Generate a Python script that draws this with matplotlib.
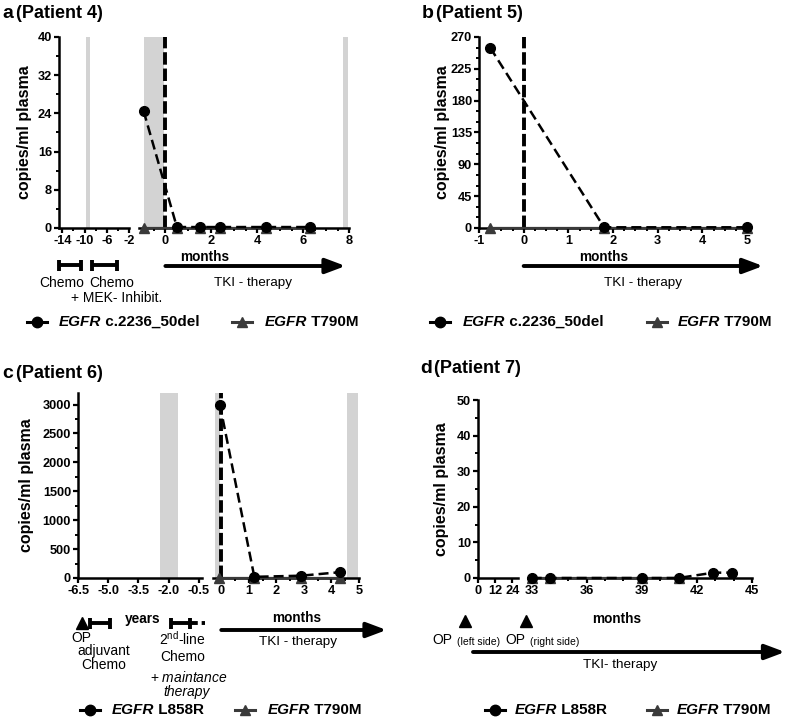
import matplotlib
matplotlib.use("Agg")
import matplotlib.pyplot as plt
import matplotlib.transforms as mtransforms
from matplotlib.ticker import MultipleLocator

plt.rcParams["font.family"] = ["Liberation Sans", "DejaVu Sans"]
plt.rcParams["mathtext.fontset"] = "custom"
plt.rcParams["mathtext.rm"] = "Liberation Sans"
plt.rcParams["mathtext.it"] = "Liberation Sans:italic"
plt.rcParams["mathtext.bf"] = "Liberation Sans:bold"
plt.rcParams["axes.unicode_minus"] = False

W, H = 787, 719
MUT_COLOR = "black"
T790_COLOR = "#3a3a3a"
SHADE = "#d3d3d3"

# ── Data ──────────────────────────────────────────────────────────────────────
# a (Patient 4): months relative to TKI start
a_months = [-0.95, 0.5, 1.5, 2.4, 4.4, 6.3]
a_del = [24.5, 0.2, 0.2, 0.2, 0.2, 0.2]
a_t790m = [0, 0, 0, 0, 0, 0]
a_shade_left = [(-9.8, -9.05)]
a_shade_right = [(-0.93, -0.05), (7.75, 7.95)]
a_chemo = [(-14.6, -10.6), (-8.6, -4.2)]
a_left_ticks = [-14, -10, -6, -2]
a_right_ticks = [0, 2, 4, 6, 8]
a_yticks = [0, 8, 16, 24, 32, 40]

# b (Patient 5)
b_months = [-0.75, 1.8, 5.0]
b_del = [255, 1, 1]
b_t790m = [0, 0, 0]
b_xticks = [-1, 0, 1, 2, 3, 4, 5]
b_yticks = [0, 45, 90, 135, 180, 225, 270]

# c (Patient 6): years before, months after TKI start
c_months = [-0.05, 1.2, 2.9, 4.3]
c_l858r = [3000, 20, 40, 100]
c_t790m_months = [-0.1, 1.2, 2.9, 4.3]
c_t790m = [0, 0, 0, 0]
c_shade_years = [(-2.45, -1.55)]
c_shade_months = [(-0.22, -0.04), (4.55, 4.95)]
c_op_year = [-6.3]
c_chemo_years = [(-5.9, -4.9), (-1.9, -0.95)]
c_left_ticks = [-6.5, -5.0, -3.5, -2.0, -0.5]
c_right_ticks = [0, 1, 2, 3, 4, 5]
c_yticks = [0, 500, 1000, 1500, 2000, 2500, 3000]

# d (Patient 7)
d_months = [33, 34, 39, 41, 42.9, 43.9]
d_l858r = [0, 0, 0, 0, 1.5, 1.5]
d_t790m_months = [33, 34, 39, 41]
d_t790m = [0, 0, 0, 0]
d_left_ticks = [0, 12, 24]
d_right_ticks = [33, 36, 39, 42, 45]
d_yticks = [0, 10, 20, 30, 40, 50]


fig = plt.figure(figsize=(W / 100, H / 100), dpi=100)


def px_axes(x0, x1, top, bottom):
    return fig.add_axes([x0 / W, 1 - bottom / H, (x1 - x0) / W, (bottom - top) / H])


def style_ax(ax, xticks, yticks=None, xminor=None, yminor=None, xfmt="{:g}"):
    for s in ["top", "right"]:
        ax.spines[s].set_visible(False)
    ax.spines["bottom"].set_linewidth(1.8)
    ax.spines["left"].set_linewidth(1.8)
    ax.set_xticks(xticks, [xfmt.format(t) for t in xticks],
                  fontweight="bold", fontsize=9.2)
    if yticks is None:
        ax.spines["left"].set_visible(False)
        ax.tick_params(axis="y", which="both", left=False, labelleft=False)
    else:
        ax.set_yticks(yticks, [f"{t:g}" for t in yticks],
                      fontweight="bold", fontsize=9.2)
    if xminor:
        ax.xaxis.set_minor_locator(MultipleLocator(xminor))
    if yminor:
        ax.yaxis.set_minor_locator(MultipleLocator(yminor))
    ax.tick_params(which="major", direction="out", length=3.8, width=1.6, pad=1.2)
    ax.tick_params(which="minor", direction="out", length=2.4, width=1.4)
    for lbl in ax.get_xticklabels() + ax.get_yticklabels():
        lbl.set_fontweight("bold")
    ax.patch.set_visible(False)


def set_ylabel(ax, x_px, x0, x1):
    ax.set_ylabel("copies/ml plasma", fontsize=11.5, fontweight="bold")
    ax.yaxis.set_label_coords((x_px - x0) / (x1 - x0), 0.5)
    ax.yaxis.label.set_verticalalignment("center")


def shade(ax, spans):
    for lo, hi in spans:
        ax.axvspan(lo, hi, color=SHADE, lw=0, zorder=0)


def draw_series(ax, x, y, tx, ty):
    ax.plot(tx, ty, color=T790_COLOR, lw=1.6, marker="^", ms=7,
            clip_on=False, zorder=3)
    ax.plot(x, y, color=MUT_COLOR, lw=1.8, ls=(0, (4, 2)), marker="o", ms=7,
            clip_on=False, zorder=4)


def tki_start(ax):
    ax.axvline(0, color="black", lw=2.8, ls=(0, (3.2, 1)), zorder=2)


# ── Panel a ───────────────────────────────────────────────────────────────────
aL = px_axes(59, 129, 37, 228)
aR = px_axes(139, 349, 37, 228)
for ax in (aL, aR):
    ax.set_ylim(0, 40)
aL.set_xlim(-14.6, -2)
aR.set_xlim(-1.15, 8)
shade(aL, a_shade_left)
shade(aR, a_shade_right)
tki_start(aR)
draw_series(aR, a_months, a_del, a_months, a_t790m)
style_ax(aL, a_left_ticks, a_yticks, xminor=2, yminor=4)
style_ax(aR, a_right_ticks, None, xminor=0.5)
set_ylabel(aL, 25, 59, 129)

# ── Panel b ───────────────────────────────────────────────────────────────────
bA = px_axes(479, 747, 37, 228)
bA.set_xlim(-1, 5)
bA.set_ylim(0, 270)
tki_start(bA)
draw_series(bA, b_months, b_del, b_months, b_t790m)
style_ax(bA, b_xticks, b_yticks, xminor=0.25, yminor=15)
set_ylabel(bA, 442, 479, 747)

# ── Panel c ───────────────────────────────────────────────────────────────────
cL = px_axes(78, 202, 393, 578)
cR = px_axes(213, 359, 393, 578)
for ax in (cL, cR):
    ax.set_ylim(0, 3200)
cL.set_xlim(-6.5, -0.35)
cR.set_xlim(-0.3, 5)
shade(cL, c_shade_years)
shade(cR, c_shade_months)
tki_start(cR)
draw_series(cR, c_months, c_l858r, c_t790m_months, c_t790m)
style_ax(cL, c_left_ticks, c_yticks, yminor=250, xfmt="{:.1f}")
style_ax(cR, c_right_ticks, None, xminor=0.5)
set_ylabel(cL, 26, 78, 202)

# ── Panel d ───────────────────────────────────────────────────────────────────
dL = px_axes(478, 518, 400, 578)
dR = px_axes(528, 752, 400, 578)
for ax in (dL, dR):
    ax.set_ylim(0, 50)
dL.set_xlim(0, 28)
dR.set_xlim(32.8, 45)
draw_series(dR, d_months, d_l858r, d_t790m_months, d_t790m)
style_ax(dL, d_left_ticks, d_yticks, yminor=5)
style_ax(dR, d_right_ticks, None, xminor=1)
set_ylabel(dL, 441, 478, 518)

# ── Overlay for titles, timelines and legends (pixel coordinates) ───────────
ov = fig.add_axes([0, 0, 1, 1])
ov.set_xlim(0, W)
ov.set_ylim(H, 0)
ov.axis("off")
ov.patch.set_visible(False)


def blend(ax):
    return mtransforms.blended_transform_factory(ax.transData, ov.transData)


def title(x, y, letter, text):
    ov.text(x, y, letter, fontsize=14, fontweight="bold", va="baseline")
    ov.text(x + 14, y, text, fontsize=13, fontweight="bold", va="baseline")


def hbar(ax, x0, x1, y, dash_to=None):
    tr = blend(ax)
    ov.plot([x0, x1], [y, y], color="black", lw=2.8, transform=tr,
            clip_on=False, solid_capstyle="butt")
    for xx in (x0, x1):
        ov.plot([xx, xx], [y - 5.5, y + 5.5], color="black", lw=2.8, transform=tr,
                clip_on=False, solid_capstyle="butt")
    if dash_to is not None:
        ov.plot([x1, dash_to], [y, y], color="black", lw=2.8, transform=tr,
                ls=(0, (2, 1)), clip_on=False)


def arrow(tr, x0, x1, y):
    ov.annotate("", xy=(x1, y), xycoords=tr, xytext=(x0, y), textcoords=tr,
                arrowprops=dict(arrowstyle="-|>,head_length=0.8,head_width=0.3",
                                lw=2.8, color="black", shrinkA=0, shrinkB=0,
                                mutation_scale=15))


def label(x, y, s, size=9.7, weight="normal", style="normal"):
    ov.text(x, y, s, fontsize=size, fontweight=weight, fontstyle=style,
            ha="center", va="center")


def legend_entry(x_line, x_text, y, marker, color, variant):
    ov.plot([x_line, x_line + 20], [y, y], color=color, lw=2.2)
    ov.plot([x_line + 10], [y], marker=marker, color=color, ms=7.5)
    t = ov.text(x_text, y, "EGFR", fontsize=11, fontweight="bold",
                fontstyle="italic", va="center")
    ov.annotate(" " + variant, xy=(1, 0), xycoords=t, fontsize=11,
                fontweight="bold", va="bottom", ha="left")


# titles
title(2, 18, "a", "(Patient 4)")
title(422, 18, "b", "(Patient 5)")
title(2, 378, "c", "(Patient 6)")
title(420, 373, "d", "(Patient 7)")

# a timeline
for lo, hi in a_chemo:
    hbar(aL, lo, hi, 265)
label(62, 283, "Chemo", size=10)
label(112, 283, "Chemo", size=10)
label(117, 298, "+ MEK- Inhibit.", size=10)
label(205, 257, "months", size=9.8, weight="bold")
arrow(blend(aR), 0, 7.85, 266)
label(253, 283, "TKI - therapy")

# b timeline
label(604, 257, "months", size=9.8, weight="bold")
arrow(blend(bA), 0, 5.36, 266)
label(643, 283, "TKI - therapy")

# c timeline
ov.plot(c_op_year, [623], marker="^", color="black", ms=9, ls="none",
        transform=blend(cL), clip_on=False)
hbar(cL, *c_chemo_years[0], 623)
hbar(cL, *c_chemo_years[1], 623, dash_to=-0.2)
label(143, 619, "years", size=9.8, weight="bold")
label(81, 638, "OP", size=10)
label(104, 651, "adjuvant", size=10)
label(104, 665, "Chemo", size=10)
label(182, 639, r"2$^{\mathrm{nd}}$-line", size=10)
label(183, 657, "Chemo", size=10)
label(189, 677, r"+ $\mathit{maintance}$", size=10)
label(187, 692, "therapy", size=10, style="italic")
label(297, 618, "months", size=9.8, weight="bold")
arrow(blend(cR), 0, 6.0, 630)
label(298, 642, "TKI - therapy")

# d timeline
ov.plot([465, 526], [621, 621], marker="^", color="black", ms=9, ls="none")
label(617, 619, "months", size=9.8, weight="bold")
label(442, 640, "OP", size=10)
label(479, 642, "(left side)", size=7.5)
label(515, 640, "OP", size=10)
label(555, 642, "(right side)", size=7.5)
arrow(ov.transData, 473, 785, 652)
label(620, 665, "TKI- therapy")

# legends
legend_entry(27, 59, 322, "o", MUT_COLOR, "c.2236_50del")
legend_entry(232, 265, 322, "^", T790_COLOR, "T790M")
legend_entry(430, 463, 322, "o", MUT_COLOR, "c.2236_50del")
legend_entry(647, 678, 322, "^", T790_COLOR, "T790M")
legend_entry(80, 112, 710, "o", MUT_COLOR, "L858R")
legend_entry(235, 268, 710, "^", T790_COLOR, "T790M")
legend_entry(485, 515, 710, "o", MUT_COLOR, "L858R")
legend_entry(647, 677, 710, "^", T790_COLOR, "T790M")

fig.savefig("out.png", dpi=100)
